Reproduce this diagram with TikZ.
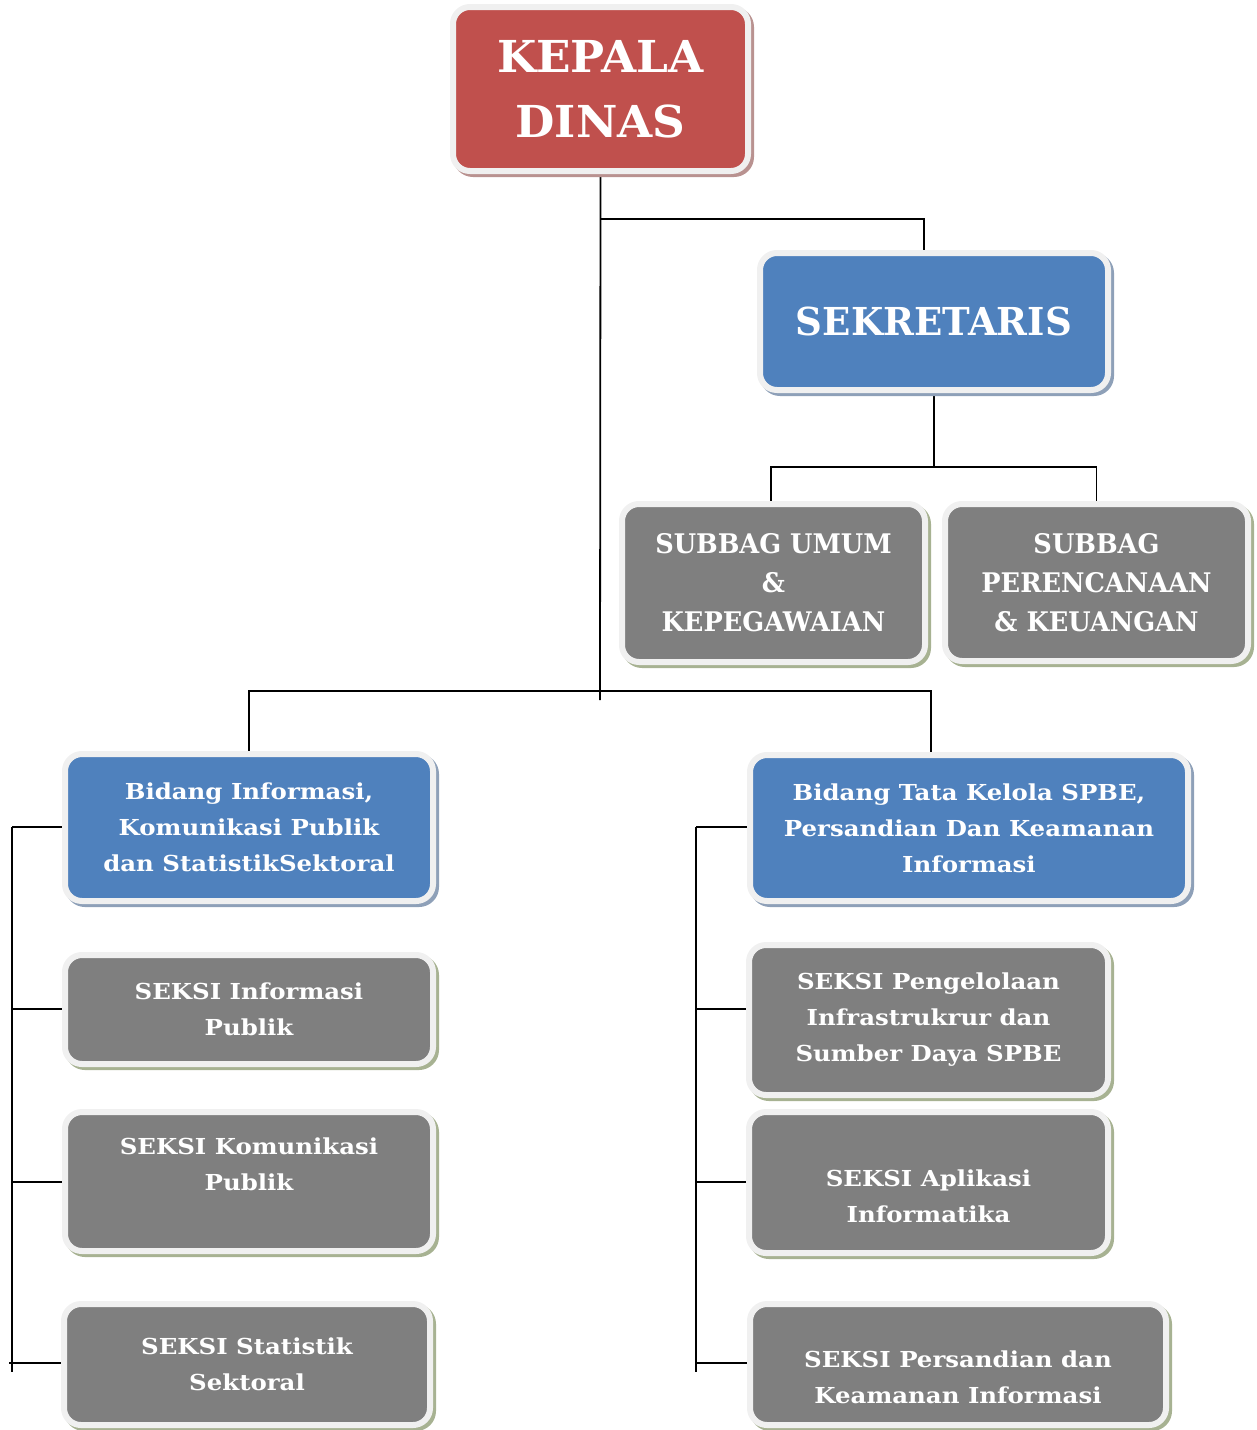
\documentclass[tikz,border=0pt]{standalone}
\usepackage{fontspec}
\setmainfont{DejaVu Serif}
\newfontfamily\wideserif{DejaVu Serif}[FakeStretch=1.11]
\newfontfamily\kepserif{DejaVu Serif}[FakeStretch=1.03]
\newfontfamily\sekserif{DejaVu Serif}[FakeStretch=0.965]
\newfontfamily\subserif{DejaVu Serif}[FakeStretch=0.95]
\pgfdeclarelayer{background}
\pgfsetlayers{background,main}
\definecolor{kred}{HTML}{C0504D}
\definecolor{kblue}{HTML}{4F81BD}
\definecolor{kgray}{HTML}{7F7F7F}
\definecolor{kframe}{HTML}{F0F0F0}
\definecolor{shred}{HTML}{B99290}
\definecolor{shblue}{HTML}{8EA0B8}
\definecolor{shgreen}{HTML}{A7B292}
\tikzset{
  orgbox/.style={rectangle, rounded corners=17pt, draw=kframe, line width=6pt,
    text=white, align=center, inner sep=0pt},
  shadowed/.style={preaction={draw=#1, fill=#1, line width=6pt,
    transform canvas={xshift=3pt, yshift=-3pt}}},
  redbox/.style={orgbox, fill=kred, shadowed=shred},
  bluebox/.style={orgbox, fill=kblue, shadowed=shblue},
  graybox/.style={orgbox, fill=kgray, shadowed=shgreen},
  boxtext/.style={text=white, align=center, inner sep=0pt},
  fbig/.style={font=\kepserif\bfseries\fontsize{44}{65}\selectfont},
  fsek/.style={font=\sekserif\bfseries\fontsize{38.5}{47}\selectfont},
  fsub/.style={font=\subserif\bfseries\fontsize{27}{39}\selectfont},
  fsm/.style={font=\wideserif\bfseries\fontsize{22}{36}\selectfont},
  conn/.style={draw=black, line width=1.8pt},
}
\begin{document}
\begin{tikzpicture}[x=1pt,y=-1pt]
\useasboundingbox (0,0) rectangle (1257,1430);

% boxes
\node[redbox, fbig, minimum width=295, minimum height=164] (kepala) at (600.5,89) {KEPALA\\DINAS};
\node[bluebox, fsek, minimum width=348, minimum height=137] (sek) at (934,321.5) {SEKRETARIS};
\node[graybox, fsub, minimum width=303, minimum height=158] (sumum) at (773.5,583) {SUBBAG UMUM\\\&\\KEPEGAWAIAN};
\node[graybox, fsub, minimum width=303, minimum height=157] (sper) at (1096.5,582.5) {SUBBAG\\PERENCANAAN\\\& KEUANGAN};
\node[bluebox, fsm, minimum width=368, minimum height=147] (binfo) at (249,827.5) {Bidang Informasi,\\Komunikasi Publik\\dan StatistikSektoral};
\node[bluebox, fsm, minimum width=438, minimum height=146] (btata) at (969,828) {Bidang Tata Kelola SPBE,\\Persandian Dan Keamanan\\Informasi};
\node[graybox, fsm, minimum width=368, minimum height=109] (sinfo) at (249,1009.5) {SEKSI Informasi\\Publik};
\node[graybox, fsm, minimum width=368, minimum height=139] (skom) at (249,1181.5) {};
\node[boxtext, fsm] (skomt) at (249,1164.5) {SEKSI Komunikasi\\Publik};
\node[graybox, fsm, minimum width=366, minimum height=121] (sstat) at (247,1364.5) {SEKSI Statistik\\Sektoral};
\node[graybox, fsm, minimum width=359, minimum height=150] (speng) at (928.5,1020) {SEKSI Pengelolaan\\Infrastrukrur dan\\Sumber Daya SPBE};
\node[graybox, fsm, minimum width=359, minimum height=141] (sapl) at (928.5,1182.5) {};
\node[boxtext, fsm] (saplt) at (928.5,1196) {SEKSI Aplikasi\\Informatika};
\node[graybox, fsm, minimum width=416, minimum height=121] (spers) at (958,1364.5) {};
\node[boxtext, fsm] (sperst) at (958,1377) {SEKSI Persandian dan\\Keamanan Informasi};

% connector coordinates
\coordinate (trunkend) at (600,700);
\coordinate (sekbar) at (600,219);
\coordinate (subbar) at (934,467);
\coordinate (bidbar) at (600,691);
\coordinate (ltop) at (12,827);
\coordinate (lbot) at (12,1372);
\coordinate (rtop) at (696,827);
\coordinate (rbot) at (696,1372);

\begin{pgfonlayer}{background}
\draw[conn] (kepala.south) -- (trunkend);
\draw[conn] (sekbar) -| ([xshift=-10pt]sek.north);
\draw[conn] (sek.south) -- (subbar);
\draw[conn] ([xshift=-2.5pt]sumum.north) |- (subbar) -| (sper.north);
\draw[conn] (binfo.north) |- (bidbar) -| ([xshift=-38pt]btata.north);
% left branch
\draw[conn] (ltop) -- (lbot);
\draw[conn] (ltop) -- (binfo.west |- ltop);
\draw[conn] (12,1009) -- (sinfo.west |- 12,1009);
\draw[conn] (12,1182) -- (skom.west |- 12,1182);
\draw[conn] (9,1363) -- (sstat.west |- 9,1363);
% right branch
\draw[conn] (rtop) -- (rbot);
\draw[conn] (rtop) -- (btata.west |- rtop);
\draw[conn] (696,1009) -- (speng.west |- 696,1009);
\draw[conn] (696,1182) -- (sapl.west |- 696,1182);
\draw[conn] (696,1363) -- (spers.west |- 696,1363);
\end{pgfonlayer}
\end{tikzpicture}
\end{document}
